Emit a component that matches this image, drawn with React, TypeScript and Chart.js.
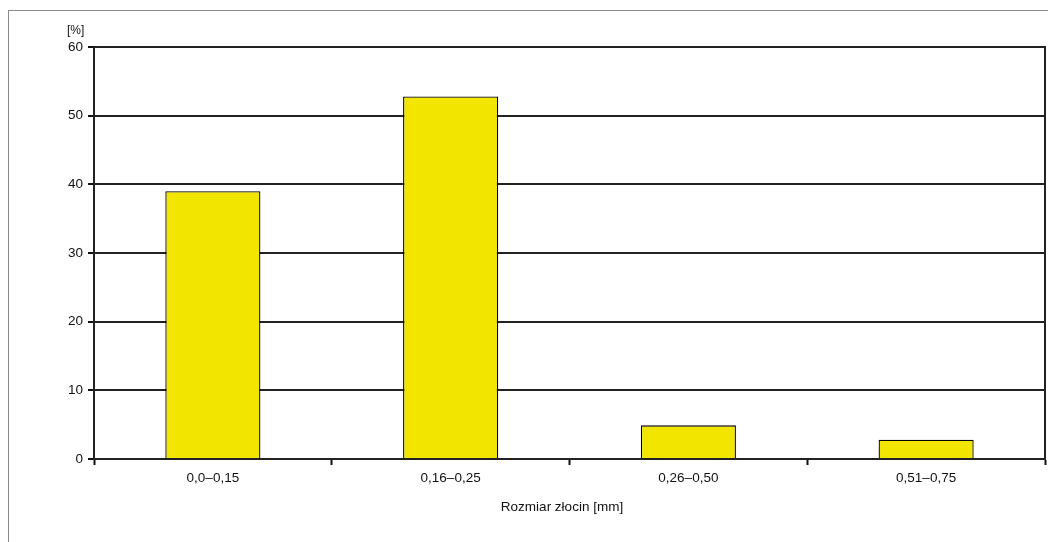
import React, { useEffect, useRef } from "react";
import { Chart, registerables } from "chart.js";

Chart.register(...registerables);

const categories = ["0,0–0,15", "0,16–0,25", "0,26–0,50", "0,51–0,75"];
const percentValues = [39, 52.8, 4.9, 2.8];
const yTicks = [0, 10, 20, 30, 40, 50, 60];
const xTitle = "Rozmiar złocin [mm]";
const yUnit = "[%]";

const FONT = "Arial, 'Liberation Sans', sans-serif";

export default function App() {
  const ref = useRef<HTMLCanvasElement | null>(null);

  useEffect(() => {
    if (!ref.current) return;
    const chart = new Chart(ref.current, {
      type: "bar",
      data: {
        labels: categories,
        datasets: [
          {
            data: percentValues,
            backgroundColor: "#F2E600",
            borderColor: "#000000",
            borderWidth: 1.3,
            barPercentage: 0.4,
            categoryPercentage: 1,
          },
        ],
      },
      options: {
        animation: false,
        responsive: false,
        devicePixelRatio: 1,
        layout: { padding: { left: 0, right: 11, top: 36, bottom: 21 } },
        plugins: {
          legend: { display: false },
          tooltip: { enabled: false },
        },
        scales: {
          x: {
            grid: {
              offset: true,
              drawOnChartArea: false,
              drawTicks: true,
              tickLength: 6,
              tickWidth: 2,
              tickColor: "#111111",
            },
            border: { color: "#222222", width: 2 },
            ticks: {
              color: "#111111",
              font: { family: FONT, size: 13.5 },
              padding: 5,
              maxRotation: 0,
            },
            afterFit: (s: any) => {
              s.height = 62;
            },
          },
          y: {
            min: 0,
            max: 60,
            afterBuildTicks: (s: any) => {
              s.ticks = yTicks.map((v) => ({ value: v }));
            },
            grid: {
              color: "#222222",
              lineWidth: 2,
              drawTicks: true,
              tickLength: 6,
              tickWidth: 2,
              tickColor: "#111111",
            },
            border: { color: "#222222", width: 2 },
            ticks: {
              color: "#111111",
              font: { family: FONT, size: 13.5 },
              padding: 5,
            },
            afterFit: (s: any) => {
              s.width = 85;
            },
          },
          y2: {
            position: "right",
            min: 0,
            max: 60,
            grid: { drawOnChartArea: false, drawTicks: false },
            border: { color: "#222222", width: 2 },
            ticks: { display: false },
            afterFit: (s: any) => {
              s.width = 0;
            },
          },
        },
      },
    });
    return () => chart.destroy();
  }, []);

  return (
    <div
      style={{
        position: "relative",
        marginTop: 2,
        width: 1047,
        height: 531,
        borderTop: "1px solid #8a8a8a",
        borderLeft: "1px solid #8a8a8a",
        background: "#ffffff",
      }}
    >
      <canvas ref={ref} width={1047} height={531} style={{ display: "block" }} />
      <div
        style={{
          position: "absolute",
          left: 58,
          top: 12,
          fontFamily: FONT,
          fontSize: 12,
          color: "#111111",
        }}
      >
        {yUnit}
      </div>
      <div
        style={{
          position: "absolute",
          left: 553,
          top: 488,
          transform: "translateX(-50%)",
          whiteSpace: "nowrap",
          fontFamily: FONT,
          fontSize: 13.5,
          lineHeight: "16px",
          color: "#111111",
        }}
      >
        {xTitle}
      </div>
    </div>
  );
}
